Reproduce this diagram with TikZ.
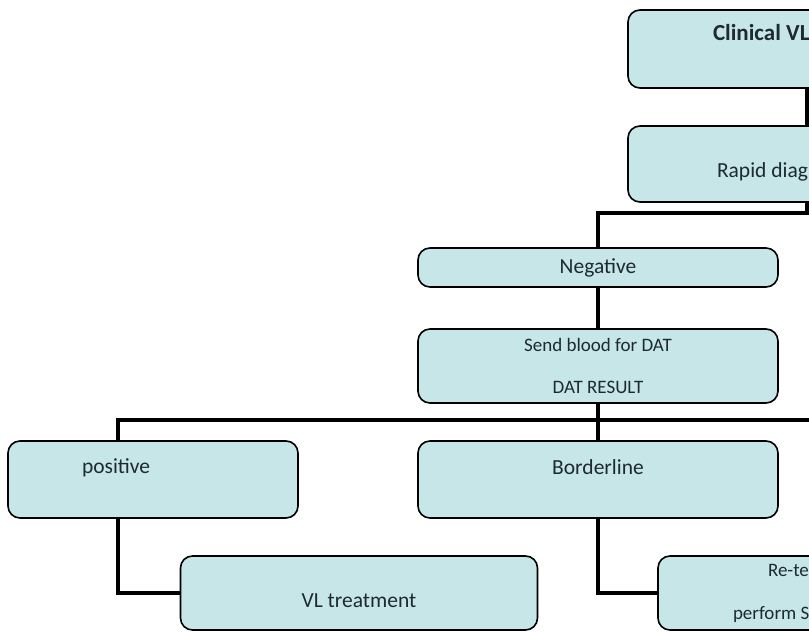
\documentclass[tikz,border=0pt]{standalone}
\usepackage{fontspec}
\setmainfont{Carlito}
\usepackage{xcolor}
\usetikzlibrary{positioning}
\definecolor{boxfill}{HTML}{C6E6E8}
\definecolor{boxtext}{HTML}{1E2A30}

\begin{document}
\begin{tikzpicture}[x=1pt, y=-1pt,
  box/.style={draw=black, line width=1.6pt, rounded corners=12pt, fill=boxfill, text=boxtext, font=\fontsize{21.5}{26}\selectfont},
  link/.style={line width=3.5pt}]
\useasboundingbox (0,0) rectangle (809,632);
\clip (0,0) rectangle (809,632);

\node (clinical) [box, minimum width=358pt, minimum height=78pt, text width=188pt, align=flush left, text height=12pt, text depth=30pt, font=\fontsize{23}{28}\selectfont\bfseries] at (807,49) {Clinical VL};
\node (rapid) [box, minimum width=358pt, minimum height=76pt, text width=180pt, align=flush left, text height=32pt, text depth=6pt] at (807,164) {Rapid diag};
\node (negative) [box, minimum width=360pt, minimum height=39pt] at (598,267.5) {Negative};
\node (dat) [box, minimum width=360pt, minimum height=74pt, align=center, font=\fontsize{19}{23}\selectfont] at (598,366) {Send blood for DAT\\[19pt]DAT RESULT};
\node (positive) [box, minimum width=290pt, minimum height=77pt, text width=142pt, align=flush left, text height=14pt, text depth=27pt] at (153,479.5) {positive};
\node (borderline) [box, minimum width=360pt, minimum height=77pt, text height=14pt, text depth=25pt] at (598,479.5) {Borderline};
\node (treat) [box, minimum width=357pt, minimum height=74pt, text height=34pt, text depth=5pt] at (359,593) {VL treatment};
\node (retest) [box, minimum width=360pt, minimum height=74pt, text width=210pt, align=flush left, font=\fontsize{19}{23}\selectfont] at (838,593) {\hspace*{35pt}Re-te\\[20pt]perform S};

\coordinate (split) at (598,420);
\coordinate (offpage) at (815,420);

\draw[link] (clinical.south) -- (rapid.north);
\draw[link] (rapid.south) -- ++(0,10) -| (negative.north);
\draw[link] (negative.south) -- (dat.north);
\draw[link] (dat.south) -- (split);
\draw[link] ([xshift=-35pt]positive.north) |- (split) -- (borderline.north);
\draw[link] (split) -- (offpage);
\draw[link] ([xshift=-35pt]positive.south) |- (treat.west);
\draw[link] (borderline.south) |- (retest.west);
\end{tikzpicture}
\end{document}
